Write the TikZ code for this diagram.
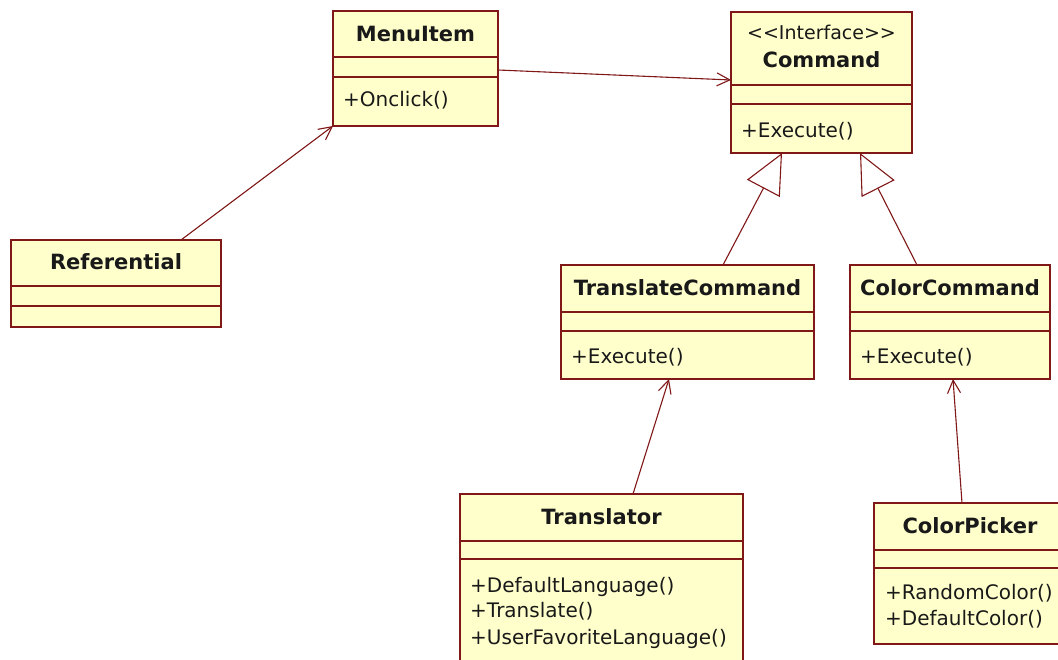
\documentclass[tikz,border=0pt]{standalone}
\usepackage{fontspec}
\setmainfont{DejaVu Sans}
\usetikzlibrary{arrows.meta}
\definecolor{umlfill}{RGB}{255,255,204}
\definecolor{umlline}{RGB}{128,24,24}
\begin{document}
\begin{tikzpicture}[x=1pt,y=-1pt,
  box/.style={draw=umlline, line width=1.6pt, fill=umlfill, inner sep=0pt, outer sep=0pt, anchor=north west},
  divider/.style={draw=umlline, line width=1.6pt},
  title/.style={font=\bfseries\fontsize{21}{24}\selectfont, anchor=base, inner sep=0pt, text=black!90},
  stereo/.style={font=\fontsize{19}{24}\selectfont, anchor=base, inner sep=0pt, text=black!90},
  meth/.style={font=\fontsize{20}{24}\selectfont, anchor=base west, inner sep=0pt, text=black!90},
  assoc/.style={draw=umlline, line width=1.1pt, -{Straight Barb[length=13pt,width=13pt,line width=1.1pt]}},
  gen/.style={draw=umlline, line width=1.1pt, -{Triangle[open,length=40pt,width=37pt,fill=white,line width=1.1pt]}}]
\useasboundingbox (0,0) rectangle (1058,660);
\fill[white] (0,0) rectangle (1058,660);
\clip (0,0) rectangle (1058,660);

% boxes
\node[box, minimum width=165pt, minimum height=115pt] (menu) at (333,11) {};
\draw[divider] (menu.west |- 0,57) -- (menu.east |- 0,57);
\draw[divider] (menu.west |- 0,77) -- (menu.east |- 0,77);
\node[title] (menut) at (415.5,41.5) {MenuItem};
\node[meth] (menum) at (343,107) {+Onclick()};

\node[box, minimum width=181pt, minimum height=141pt] (cmd) at (731,12) {};
\draw[divider] (cmd.west |- 0,85) -- (cmd.east |- 0,85);
\draw[divider] (cmd.west |- 0,104) -- (cmd.east |- 0,104);
\node[stereo] (cmds) at (821.5,39.5) {<{}<Interface>{}>};
\node[title] (cmdt) at (821.5,68) {Command};
\node[meth] (cmdm) at (741,138) {+Execute()};

\node[box, minimum width=210pt, minimum height=87pt] (ref) at (11,240) {};
\draw[divider] (ref.west |- 0,286) -- (ref.east |- 0,286);
\draw[divider] (ref.west |- 0,306) -- (ref.east |- 0,306);
\node[title] (reft) at (116,270) {Referential};

\node[box, minimum width=253pt, minimum height=114pt] (tc) at (561,265) {};
\draw[divider] (tc.west |- 0,312) -- (tc.east |- 0,312);
\draw[divider] (tc.west |- 0,331) -- (tc.east |- 0,331);
\node[title] (tct) at (687.5,296) {TranslateCommand};
\node[meth] (tcm) at (571,363) {+Execute()};

\node[box, minimum width=200pt, minimum height=114pt] (cc) at (850,265) {};
\draw[divider] (cc.west |- 0,312) -- (cc.east |- 0,312);
\draw[divider] (cc.west |- 0,331) -- (cc.east |- 0,331);
\node[title] (cct) at (950,296) {ColorCommand};
\node[meth] (ccm) at (860,363) {+Execute()};

\node[box, minimum width=283pt, minimum height=180pt] (tr) at (460,494) {};
\draw[divider] (tr.west |- 0,541) -- (tr.east |- 0,541);
\draw[divider] (tr.west |- 0,559) -- (tr.east |- 0,559);
\node[title] (trt) at (601.5,524) {Translator};
\node[meth] (trm1) at (470,592) {+DefaultLanguage()};
\node[meth] (trm2) at (470,617) {+Translate()};
\node[meth] (trm3) at (470,644) {+UserFavoriteLanguage()};

\node[box, minimum width=200pt, minimum height=141pt] (cp) at (874,503) {};
\draw[divider] (cp.west |- 0,550) -- (cp.east |- 0,550);
\draw[divider] (cp.west |- 0,568) -- (cp.east |- 0,568);
\node[title] (cpt) at (970,533) {ColorPicker};
\node[meth] (cpm1) at (885,599) {+RandomColor()};
\node[meth] (cpm2) at (885,625) {+DefaultColor()};

% connector end points
\coordinate (r1) at (181,240);
\coordinate (m1) at (498,70);
\coordinate (c1) at (731,80);
\coordinate (t1) at (723,265);
\coordinate (g1) at (782,153);
\coordinate (k1) at (917,265);
\coordinate (g2) at (860,153);
\coordinate (tr1) at (633,494);
\coordinate (t2) at (669,379);
\coordinate (p1) at (962,503);
\coordinate (k2) at (953,379);

\draw[assoc] (r1) -- (menu.south west);
\draw[assoc] (m1) -- (c1);
\draw[gen] (t1) -- (g1);
\draw[gen] (k1) -- (g2);
\draw[assoc] (tr1) -- (t2);
\draw[assoc] (p1) -- (k2);
\end{tikzpicture}
\end{document}
